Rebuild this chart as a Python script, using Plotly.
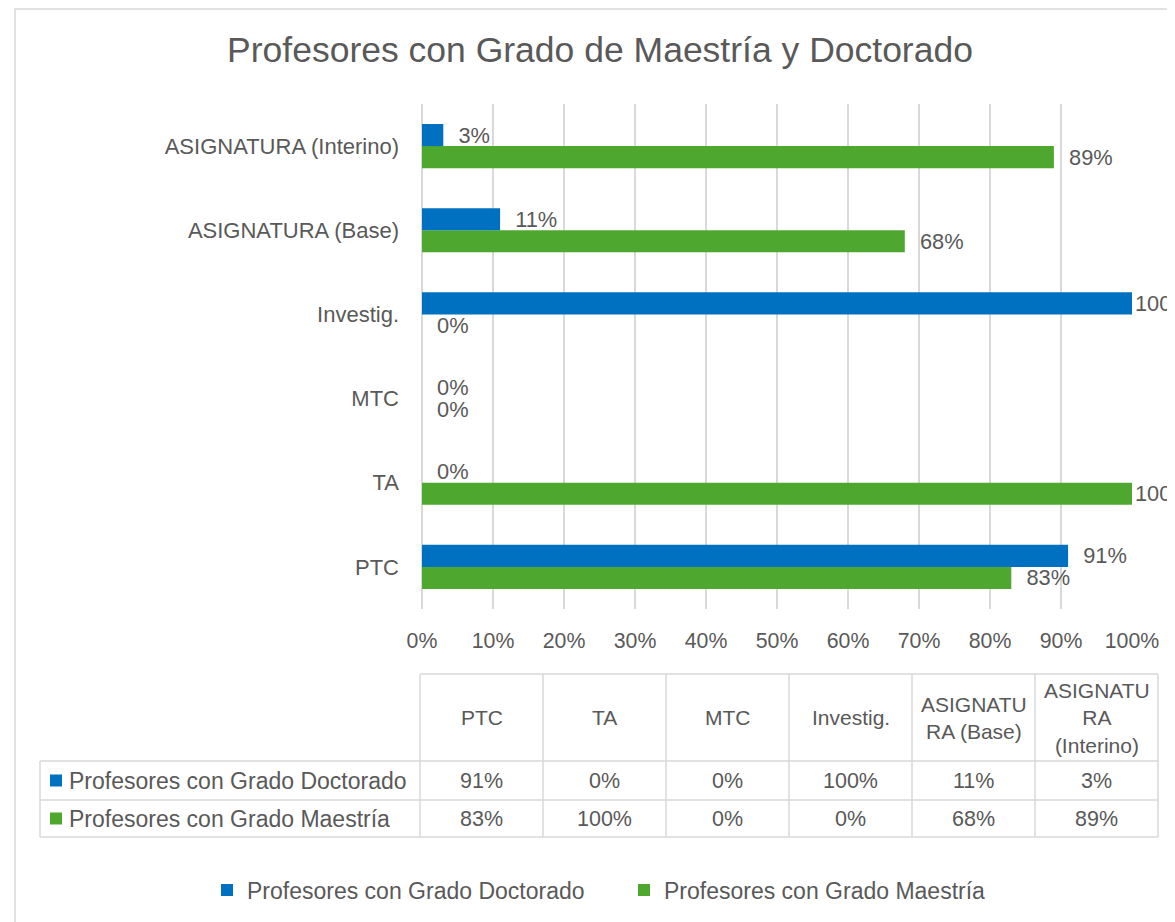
import plotly.graph_objects as go

# ---------------- data ----------------
categories = ["PTC", "TA", "MTC", "Investig.", "ASIGNATURA (Base)", "ASIGNATURA (Interino)"]
table_headers = ["PTC", "TA", "MTC", "Investig.", "ASIGNATU<br>RA (Base)", "ASIGNATU<br>RA<br>(Interino)"]
series_names = ["Profesores con Grado Doctorado", "Profesores con Grado Maestría"]
doctorado = [0.91, 0.00, 0.00, 1.00, 0.11, 0.03]
maestria = [0.83, 1.00, 0.00, 0.00, 0.68, 0.89]
title_text = "Profesores con Grado de Maestría y Doctorado"

# ---------------- style ----------------
BLUE = "#0070C0"
GREEN = "#4EA72E"
TXT = "#595959"
GRID = "#D9D9D9"
FONT = "Liberation Sans, Arial, sans-serif"
OFF = 8                      # page body margin of the html page
W, H = 1175 - OFF, 922 - OFF
PLOT_L, PLOT_R, PLOT_T, PLOT_B = 422, 1132, 104, 609   # plot area in screen pixels
L, R = PLOT_L - OFF, W - (PLOT_R - OFF)
T, B = PLOT_T - OFF, H - (PLOT_B - OFF)
PW, PH = PLOT_R - PLOT_L, PLOT_B - PLOT_T


def px(x):
    return (x - PLOT_L) / PW


def py(y):
    return (PLOT_B - y) / PH


def pct(v):
    return f"{round(v * 100):d}%"


def bar_label(v):
    # Excel keeps labels of full-length bars pulled back toward the plot area
    return pct(v) if v >= 1 else "\u00a0\u00a0" + pct(v)


label_font = dict(color=TXT, size=21.8, family=FONT)
fig = go.Figure()
# green first so that blue is drawn above it inside each group
fig.add_trace(go.Bar(
    y=categories, x=maestria, orientation="h", name=series_names[1],
    marker=dict(color=GREEN, line=dict(width=0)),
    text=[bar_label(v) for v in maestria], textposition="outside",
    textfont=label_font, cliponaxis=False, constraintext="none", hoverinfo="skip",
))
fig.add_trace(go.Bar(
    y=categories, x=doctorado, orientation="h", name=series_names[0],
    marker=dict(color=BLUE, line=dict(width=0)),
    text=[bar_label(v) for v in doctorado], textposition="outside",
    textfont=label_font, cliponaxis=False, constraintext="none", hoverinfo="skip",
))

shapes = []
annotations = []

# outer chart border
shapes.append(dict(type="rect", xref="paper", yref="paper",
                   x0=px(15), x1=px(1200), y0=py(950), y1=py(9),
                   line=dict(color=GRID, width=1.5), layer="below"))

# ---------------- data table ----------------
col_x = [420 + i * 123 for i in range(len(categories) + 1)]
head_top, row1, row2, row3 = 674, 761, 800, 837
label_left = 40
line_style = dict(color=GRID, width=1.5)
shapes.append(dict(type="line", xref="paper", yref="paper", x0=px(col_x[0]), x1=px(col_x[-1]),
                   y0=py(head_top), y1=py(head_top), line=line_style))
for yy in (row1, row2, row3):
    shapes.append(dict(type="line", xref="paper", yref="paper", x0=px(label_left), x1=px(col_x[-1]),
                       y0=py(yy), y1=py(yy), line=line_style))
shapes.append(dict(type="line", xref="paper", yref="paper", x0=px(label_left), x1=px(label_left),
                   y0=py(row1), y1=py(row3), line=line_style))
for xx in col_x:
    shapes.append(dict(type="line", xref="paper", yref="paper", x0=px(xx), x1=px(xx),
                       y0=py(head_top), y1=py(row3), line=line_style))

hfont = dict(family=FONT, size=21, color=TXT)
vfont = dict(family=FONT, size=21.5, color=TXT)
nfont = dict(family=FONT, size=23, color=TXT)
for i, hdr in enumerate(table_headers):
    cx = (col_x[i] + col_x[i + 1]) / 2
    annotations.append(dict(xref="paper", yref="paper", x=px(cx), y=py((head_top + row1) / 2),
                            text=hdr, showarrow=False, font=hfont, xanchor="center", yanchor="middle"))
rows = [(series_names[0], doctorado, BLUE, (row1 + row2) / 2),
        (series_names[1], maestria, GREEN, (row2 + row3) / 2)]
for name, vals, col, cy in rows:
    shapes.append(dict(type="rect", xref="paper", yref="paper", x0=px(50), x1=px(62),
                       y0=py(cy + 6), y1=py(cy - 6), fillcolor=col, line=dict(width=0)))
    annotations.append(dict(xref="paper", yref="paper", x=px(67), y=py(cy), text=name,
                            showarrow=False, font=nfont, xanchor="left", yanchor="middle"))
    for i, v in enumerate(vals):
        cx = (col_x[i] + col_x[i + 1]) / 2
        annotations.append(dict(xref="paper", yref="paper", x=px(cx), y=py(cy), text=pct(v),
                                showarrow=False, font=vfont, xanchor="center", yanchor="middle"))

fig.update_layout(
    width=W, height=H,
    margin=dict(l=L, r=R, t=T, b=B, autoexpand=False),
    paper_bgcolor="white", plot_bgcolor="white",
    font=dict(family=FONT, color=TXT, size=22),
    title=dict(text=title_text, x=px(600), xref="paper", xanchor="center",
               y=1 - (50 - OFF) / H, yref="container", yanchor="middle",
               font=dict(family=FONT, size=35.5, color=TXT)),
    barmode="group", bargap=0.476, bargroupgap=0,
    showlegend=True,
    legend=dict(orientation="h", traceorder="reversed", x=px(207), xanchor="left",
                y=py(890), yanchor="middle", font=dict(family=FONT, size=23, color=TXT),
                entrywidth=372, entrywidthmode="pixels", bgcolor="rgba(0,0,0,0)"),
    xaxis=dict(range=[0, 1], dtick=0.1, tick0=0, tickformat=".0%", showgrid=True,
               gridcolor=GRID, gridwidth=1.5, zeroline=True, zerolinecolor=GRID,
               zerolinewidth=1.5, showline=False, ticks="", ticklabelstandoff=17,
               tickfont=dict(family=FONT, size=21.3, color=TXT), fixedrange=True),
    yaxis=dict(showgrid=False, zeroline=False, showline=False, ticks="",
               ticklabelstandoff=22, tickfont=dict(family=FONT, size=22, color=TXT),
               fixedrange=True),
    shapes=shapes, annotations=annotations,
)

fig.write_html("out.html")
